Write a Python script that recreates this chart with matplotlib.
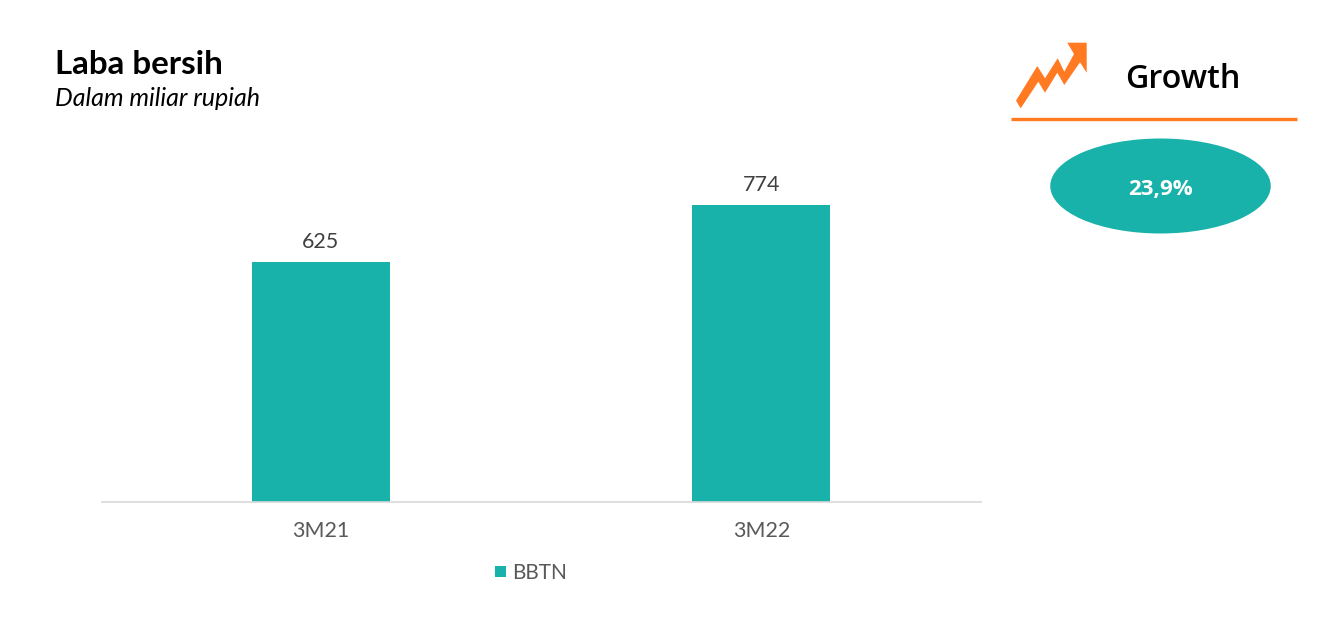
import matplotlib
matplotlib.use("Agg")
import matplotlib.pyplot as plt
from matplotlib.patches import Ellipse, Polygon, Rectangle
from matplotlib.lines import Line2D

categories = ["3M21", "3M22"]
values = [625, 774]
series = "BBTN"
title = "Laba bersih"
subtitle = "Dalam miliar rupiah"
growth_label = "Growth"
growth_value = "23,9%"
teal = "#19B2AA"
orange = "#FF7A20"
W, H = 1341, 631

plt.rcParams['font.family'] = ['Lato', 'DejaVu Sans']
fig = plt.figure(figsize=(W/100, H/100), dpi=100, facecolor="white")

# bar axes: x 101..982, baseline y=501.5
ax = fig.add_axes([100.6/W, 1-501.5/H, 881/W, (501.5-130)/H])
ax.bar(range(2), values, width=0.3135, color=teal, label=series)
ax.set_xlim(-0.5, 1.5)
ax.set_ylim(0, 774*(501.5-130)/(501.5-205))
ax.set_yticks([])
for s in ("top", "left", "right"):
    ax.spines[s].set_visible(False)
ax.spines["bottom"].set_color("#D9D9D9")
ax.spines["bottom"].set_linewidth(1.2)
ax.spines["bottom"].set_capstyle("butt")
ax.set_xticks(range(2), categories)
ax.tick_params(axis="x", length=0, labelsize=15.5, labelcolor="#595959", pad=14)
for i, v in enumerate(values):
    ax.annotate(str(v), (i, v), xytext=(0, 7.5), textcoords="offset points",
                ha="center", va="bottom", fontsize=15.5, color="#404040")
ax.patch.set_alpha(0)

# overlay in pixel coordinates
ov = fig.add_axes([0, 0, 1, 1])
ov.set_xlim(0, W)
ov.set_ylim(H, 0)
ov.axis("off")
ov.patch.set_alpha(0)
ov.text(55.5, 65, title, fontsize=23.9, fontweight="bold", color="black", va="center")
ov.text(55, 99, subtitle, fontsize=18, style="italic", color="black", va="center")
ov.text(1183, 80, growth_label, fontsize=23.2, fontweight="semibold", color="black",
        ha="center", va="center", family=["Open Sans", "DejaVu Sans"])
ov.add_line(Line2D([1011, 1297.5], [119, 119], color=orange, lw=2.4, solid_capstyle="butt"))
ov.add_patch(Ellipse((1160.5, 186), 220.5, 95, color=teal, lw=0))
ov.text(1160.5, 189, growth_value, fontsize=16, fontweight="bold", color="white",
        ha="center", va="center", family=["Open Sans", "DejaVu Sans"])
ov.add_patch(Polygon([(1016, 100.7), (1037.3, 66), (1045, 78.3), (1057.7, 58.3), (1064.3, 71.7),
                      (1074, 54), (1067.3, 42.7), (1086.7, 42.7), (1086.7, 72.7), (1080, 62.3),
                      (1064.3, 85), (1057.3, 72.7), (1045, 92.7), (1038.3, 81.7), (1020.7, 108.3)],
                     closed=True, color=orange, lw=0))
ov.add_patch(Rectangle((495.5, 566), 11, 11, color=teal, lw=0))
ov.text(512.3, 573, series, fontsize=15, color="#595959", va="center")

fig.savefig("out.png", dpi=100, facecolor="white")
